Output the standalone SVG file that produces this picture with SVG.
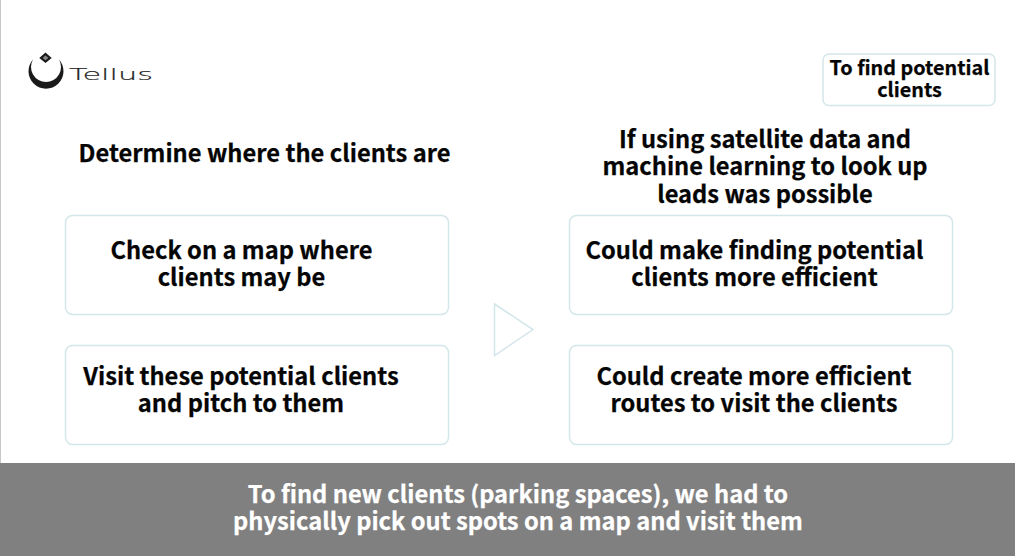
<svg xmlns="http://www.w3.org/2000/svg" width="1015" height="556" viewBox="0 0 1015 556">
<style>
.box{fill:#fff;stroke:#d3e6e9;stroke-width:1.5}
.t{font-family:"Noto Sans CJK JP","Noto Sans",sans-serif;font-weight:700;font-size:23.7px;fill:#050505;stroke:#050505;stroke-width:.25;text-anchor:middle}
.w{fill:#fff;stroke:#fff}
.s{font-size:19.8px}
</style>
<rect width="1015" height="556" fill="#fff"/>
<rect x="0" y="0" width="1" height="463" fill="#c8c8c8"/>
<g id="logo">
<path d="M33 59.500A17.500 17.500 0 1 0 59 59.500A15 15 0 1 1 33 59.500Z" fill="#1a1a1a"/>
<path d="M45.500 54L50 58L45.500 61.500L41 58Z" fill="#888" stroke="#1a1a1a" stroke-width="2.200"/>
<text x="69" y="80" font-family="'DejaVu Sans',sans-serif" font-size="16.500" font-weight="200" fill="#222" stroke="#222" stroke-width=".15" textLength="84" lengthAdjust="spacingAndGlyphs">Tellus</text>
</g>
<g id="tag">
<rect class="box" x="823" y="54" width="172" height="51.500" rx="6"/>
<text class="t s"><tspan x="909.500" y="75">To find potential</tspan><tspan x="909.500" y="97">clients</tspan></text>
</g>
<g id="left-heading"><text class="t" x="264.500" y="162">Determine where the clients are</text></g>
<g id="right-heading">
<text class="t"><tspan x="765" y="147.500">If using satellite data and</tspan><tspan x="765" y="175">machine learning to look up</tspan><tspan x="765" y="202.500">leads was possible</tspan></text>
</g>
<g id="box-left-1">
<rect class="box" x="65.500" y="215.500" width="383" height="99" rx="7"/>
<text class="t"><tspan x="241.500" y="258.500">Check on a map where</tspan><tspan x="241.500" y="285.500">clients may be</tspan></text>
</g>
<g id="box-left-2">
<rect class="box" x="65.500" y="345.500" width="383" height="99" rx="7"/>
<text class="t"><tspan x="241" y="384.500">Visit these potential clients</tspan><tspan x="241" y="411.500">and pitch to them</tspan></text>
</g>
<g id="box-right-1">
<rect class="box" x="569.500" y="215.500" width="383" height="99" rx="7"/>
<text class="t"><tspan x="754.500" y="258.500">Could make finding potential</tspan><tspan x="754.500" y="285.500">clients more efficient</tspan></text>
</g>
<g id="box-right-2">
<rect class="box" x="569.500" y="345.500" width="383" height="99" rx="7"/>
<text class="t"><tspan x="754" y="384.500">Could create more efficient</tspan><tspan x="754" y="411.500">routes to visit the clients</tspan></text>
</g>
<g id="arrow"><path d="M494.500 304L533 329.500L494.500 355.500Z" fill="#fff" stroke="#d3e6e9" stroke-width="1.500"/></g>
<g id="banner">
<rect x="0" y="463" width="1015" height="93" fill="#808080"/>
<text class="t w"><tspan x="518" y="503">To find new clients (parking spaces), we had to</tspan><tspan x="518" y="530">physically pick out spots on a map and visit them</tspan></text>
</g>
<g id="connectors"/>
</svg>
